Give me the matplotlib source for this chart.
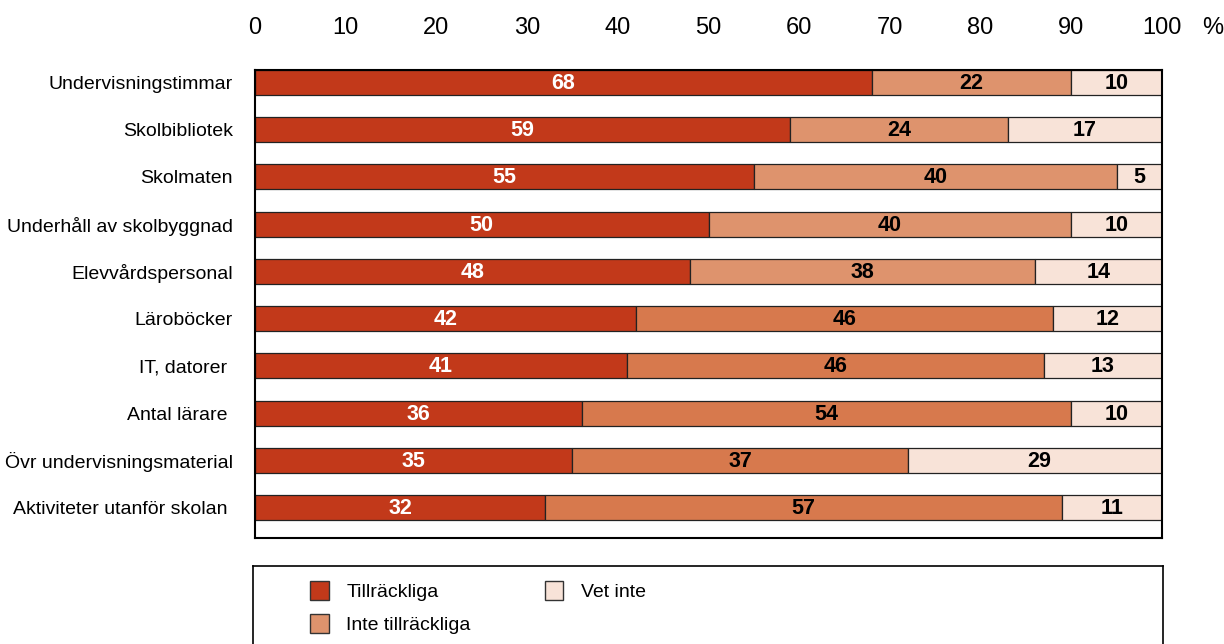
import numpy as np
import matplotlib.pyplot as plt
from matplotlib.patches import Patch

categories = ["Undervisningstimmar", "Skolbibliotek", "Skolmaten",
              "Underhåll av skolbyggnad", "Elevvårdspersonal", "Läroböcker",
              "IT, datorer ", "Antal lärare ", "Övr undervisningsmaterial",
              "Aktiviteter utanför skolan "]
tillrackliga = [68, 59, 55, 50, 48, 42, 41, 36, 35, 32]
inte_tillrackliga = [22, 24, 40, 40, 38, 46, 46, 54, 37, 57]
vet_inte = [10, 17, 5, 10, 14, 12, 13, 10, 29, 11]
xticks = [0, 10, 20, 30, 40, 50, 60, 70, 80, 90, 100]

c_red = "#c2391a"
c_mid_light = "#de936d"
c_mid_dark = "#d7794d"
c_pale = "#f8e3d8"
mid_colors = [c_mid_light] * 5 + [c_mid_dark] * 5

plt.rcParams['font.family'] = ['Liberation Sans', 'DejaVu Sans']

fig = plt.figure(figsize=(12.24, 6.44), dpi=100)
ax = fig.add_axes([255 / 1224, 1 - 538 / 644, (1162 - 255) / 1224, (538 - 70) / 644])

y = np.arange(len(categories))
h = 0.53
left1 = np.array(tillrackliga)
left2 = left1 + np.array(inte_tillrackliga)
ax.barh(y, tillrackliga, height=h, color=c_red, edgecolor="#222222", linewidth=0.9)
ax.barh(y, inte_tillrackliga, left=left1, height=h, color=mid_colors, edgecolor="#222222", linewidth=0.9)
ax.barh(y, vet_inte, left=left2, height=h, color=c_pale, edgecolor="#222222", linewidth=0.9)

for i in range(len(categories)):
    ax.text(tillrackliga[i] / 2, y[i] + 0.02, str(tillrackliga[i]), ha="center", va="center",
            color="white", fontsize=15.5, fontweight="bold")
    ax.text(left1[i] + inte_tillrackliga[i] / 2, y[i] + 0.02, str(inte_tillrackliga[i]), ha="center",
            va="center", color="black", fontsize=15.5, fontweight="bold")
    ax.text(left2[i] + vet_inte[i] / 2, y[i] + 0.02, str(vet_inte[i]), ha="center", va="center",
            color="black", fontsize=15.5, fontweight="bold")

ax.set_xlim(0, 100)
ax.set_ylim(9.64, -0.26)
ax.xaxis.tick_top()
ax.set_xticks(xticks)
ax.tick_params(axis="x", length=0, pad=22, labelsize=17)
ax.set_yticks(y)
ax.set_yticklabels(categories)
ax.tick_params(axis="y", length=0, pad=16, labelsize=14)
for s in ax.spines.values():
    s.set_linewidth(1.5)
    s.set_color("black")
ax.text((1213 - 255) / 907, 1 + (70 - 28) / 468, "%", transform=ax.transAxes,
        ha="center", va="center", fontsize=17, color="black")

# legend box
lax = fig.add_axes([253 / 1224, -0.05, (1163 - 253) / 1224, (644 - 566) / 644 + 0.05])
lax.set_xticks([])
lax.set_yticks([])
for s in lax.spines.values():
    s.set_linewidth(1.2)
handles = [Patch(facecolor=c_red, edgecolor="#333333"),
           Patch(facecolor=c_mid_light, edgecolor="#333333"),
           Patch(facecolor=c_pale, edgecolor="#333333")]
labels = ["Tillräckliga", "Inte tillräckliga", "Vet inte"]
lax.legend(handles, labels, loc="upper left", bbox_to_anchor=(0.063, 0.86), ncol=2,
           frameon=False, fontsize=14, handlelength=0.95, handleheight=1.1,
           columnspacing=3.8, handletextpad=0.9, labelspacing=0.65,
           borderpad=0, borderaxespad=0)

fig.savefig("out.png", dpi=100)
